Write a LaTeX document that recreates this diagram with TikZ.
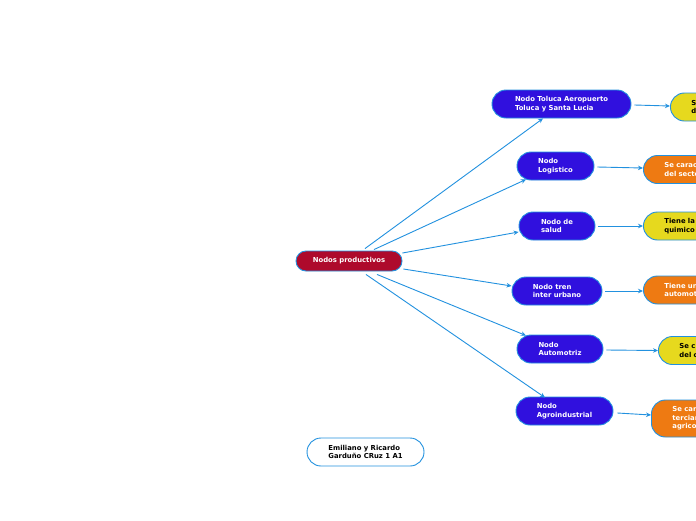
\documentclass[tikz,border=0pt]{standalone}
\usepackage{fontspec}
\setmainfont{DejaVu Sans}
\usetikzlibrary{arrows.meta,calc}
\definecolor{crim}{HTML}{AE0A2C}
\definecolor{vio}{HTML}{3010DE}
\definecolor{edgeb}{HTML}{2291DF}
\definecolor{yel}{HTML}{E6D91E}
\definecolor{ora}{HTML}{EE7A12}
\tikzset{
  x=1pt,y=-1pt,
  base/.style={draw=edgeb,line width=0.9pt,font=\fontsize{6.85}{8.4}\selectfont\bfseries,inner ysep=0pt},
  central/.style={base,fill=crim,text=white,rounded corners=10pt,minimum width=106pt,minimum height=20pt},
  sub/.style={base,fill=vio,text=white,rounded corners=14pt,minimum height=28pt,align=left,inner xsep=0pt},
  leafy/.style={base,fill=yel,text=black,rounded corners=14pt,minimum height=28pt,anchor=west,align=left,text width=90pt,inner xsep=21pt},
  leafo/.style={base,fill=ora,text=white,rounded corners=14pt,minimum height=28pt,anchor=west,align=left,text width=90pt,inner xsep=21pt},
  note/.style={base,fill=white,text=black,rounded corners=14pt,minimum width=117pt,minimum height=28pt,align=left},
  conn/.style={draw=edgeb,line width=0.9pt,-{Stealth[length=5pt,width=4.5pt]}}
}
\begin{document}
\begin{tikzpicture}
\clip (0,0) rectangle (696,520);
\fill[white] (0,0) rectangle (696,520);

\node[central] (c) at (349,261) {Nodos productivos};

\node[sub,minimum width=139pt] (t) at (561.5,104) {Nodo Toluca Aeropuerto\\Toluca y Santa Lucia};
\node[sub,minimum width=77pt] (l) at (555.5,166) {Nodo\\Logistico};
\node[sub,minimum width=76pt] (s) at (557,226) {Nodo de\\salud};
\node[sub,minimum width=90pt] (tr) at (557,291) {Nodo tren\\inter urbano};
\node[sub,minimum width=86pt] (a) at (560,349) {Nodo\\Automotriz};
\node[sub,minimum width=97pt] (ag) at (564.5,411) {Nodo\\Agroindustrial};

\node[leafy] (y1) at (670,107) {S\\d};
\node[leafo] (o1) at (643,169.5) {Se carac\\del secto};
\node[leafy] (y2) at (643,226) {Tiene la\\quimico};
\node[leafo] (o2) at (643,290) {Tiene un\\automot};
\node[leafy] (y3) at (658,350.5) {Se c\\del c};
\node[leafo,minimum height=37pt] (o3) at (651,418.5) {Se car\\terciar\\agrico};

\node[note] (n) at (365.5,452) {Emiliano y Ricardo\\Garduño CRuz 1 A1};

\draw[conn] ([shift={(16,-2)}]c.north) -- ([shift={(-18.5,0)}]t.south);
\draw[conn] ([shift={(25,-1)}]c.north) -- ([shift={(-29.5,-1)}]l.south);
\draw[conn] ([shift={(0,-8)}]c.east) -- ([shift={(0,6)}]s.west);
\draw[conn] ([shift={(1,8)}]c.east) -- ([shift={(0,-5)}]tr.west);
\draw[conn] ([shift={(28,3)}]c.south) -- ([shift={(-34,1)}]a.north);
\draw[conn] ([shift={(17,3)}]c.south) -- ([shift={(-19.5,1)}]ag.north);

\draw[conn] ([shift={(3,1)}]t.east) -- ([shift={(0,-1)}]y1.west);
\draw[conn] ([shift={(3,1)}]l.east) -- ([shift={(0,-1.5)}]o1.west);
\draw[conn] ([shift={(3,0)}]s.east) -- (y2.west);
\draw[conn] ([shift={(3,0)}]tr.east) -- ([shift={(0,1)}]o2.west);
\draw[conn] ([shift={(3,1)}]a.east) -- (y3.west);
\draw[conn] ([shift={(4,2)}]ag.east) -- ([shift={(0,-3.5)}]o3.west);
\end{tikzpicture}
\end{document}
